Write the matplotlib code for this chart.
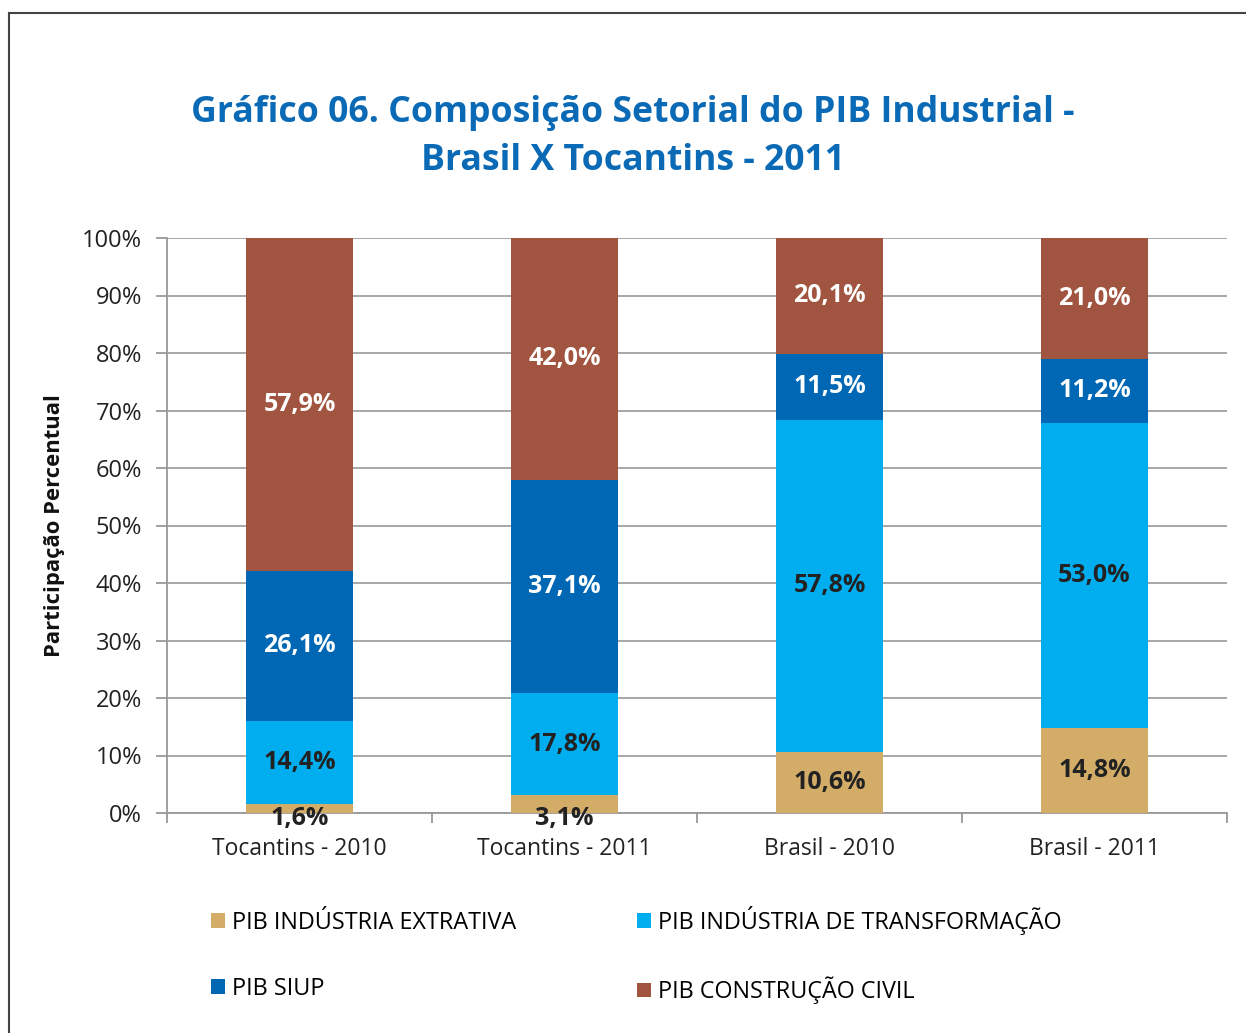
import matplotlib.pyplot as plt
import numpy as np
from matplotlib.lines import Line2D
from matplotlib.patches import Patch

categories = ["Tocantins - 2010", "Tocantins - 2011", "Brasil - 2010", "Brasil - 2011"]
extrativa = [1.6, 3.1, 10.6, 14.8]
transformacao = [14.4, 17.8, 57.8, 53.0]
siup = [26.1, 37.1, 11.5, 11.2]
construcao = [57.9, 42.0, 20.1, 21.0]

series_names = ["PIB INDÚSTRIA EXTRATIVA", "PIB INDÚSTRIA DE TRANSFORMAÇÃO",
                "PIB SIUP", "PIB CONSTRUÇÃO CIVIL"]
series_colors = ["#D3AC67", "#00AEEF", "#0067B4", "#A15440"]
label_colors = ["#222222", "#222222", "white", "white"]

plt.rcParams['font.family'] = ['Open Sans', 'DejaVu Sans']

fig = plt.figure(figsize=(12.46, 10.33), dpi=100)
ax = fig.add_axes([167 / 1246, 1 - 813 / 1033, 1060 / 1246, 575 / 1033])

x = np.arange(len(categories))
bottom = np.zeros(len(categories))
all_series = [extrativa, transformacao, siup, construcao]
for vals, name, col, lcol in zip(all_series, series_names, series_colors, label_colors):
    vals = np.array(vals)
    ax.bar(x, vals, 0.405, bottom=bottom, color=col, label=name, zorder=3)
    for xi, b, v in zip(x, bottom, vals):
        yc = b + v / 2
        if v < 5:
            yc = -0.9  # small slices: label sits on the axis like in Excel
        ax.text(xi, yc, f"{v:.1f}%".replace(".", ","), ha='center', va='center',
                color=lcol, fontsize=18, fontweight='bold', zorder=4)
    bottom += vals

ax.set_xlim(-0.5, 3.5)
ax.set_ylim(0, 100)
ax.set_yticks(np.arange(0, 101, 10))
ax.set_yticklabels([f"{v}%" for v in range(0, 101, 10)], fontsize=17, color="#222222")
ax.set_xticks(x)
ax.set_xticklabels(categories, fontsize=16.5, color="#222222")
ax.set_xticks(np.arange(-0.5, 4, 1), minor=True)
ax.tick_params(axis='x', which='major', length=0, pad=17)
ax.tick_params(axis='x', which='minor', length=7, color="#999999", width=1.3)
ax.tick_params(axis='y', length=8, color="#999999", width=1.3, pad=10)
ax.grid(axis='y', color="#A0A0A0", linewidth=1.3, zorder=0)
for s in ['top', 'right']:
    ax.spines[s].set_visible(False)
for s in ['left', 'bottom']:
    ax.spines[s].set_color("#999999")
    ax.spines[s].set_linewidth(1.3)

ax.set_ylabel("Participação Percentual", fontsize=15.8, fontweight='bold', color="#111111", labelpad=12)

fig.text(633 / 1246, 1 - 137 / 1033, "Gráfico 06. Composição Setorial do PIB Industrial -\nBrasil X Tocantins - 2011",
         ha='center', va='center', fontsize=25.7, fontweight='bold', color="#0B6AB5", linespacing=1.42)

handles = [Patch(facecolor=c, edgecolor='none') for c in series_colors]
order = [0, 2, 1, 3]
fig.legend([handles[i] for i in order], [series_names[i] for i in order],
           loc='center left', bbox_to_anchor=(190 / 1246, 1 - 955 / 1033), ncol=2,
           frameon=False, fontsize=16.8, handlelength=0.6, handleheight=0.6,
           handletextpad=0.3, columnspacing=5.2, labelspacing=1.8)

frame_x = 9 / 1246
frame_y = 1 - 13 / 1033
fig.add_artist(Line2D([frame_x, frame_x], [0, frame_y], transform=fig.transFigure, color="#444444", lw=1.5))
fig.add_artist(Line2D([frame_x, 1], [frame_y, frame_y], transform=fig.transFigure, color="#444444", lw=1.5))

fig.savefig("out.png", dpi=100)
